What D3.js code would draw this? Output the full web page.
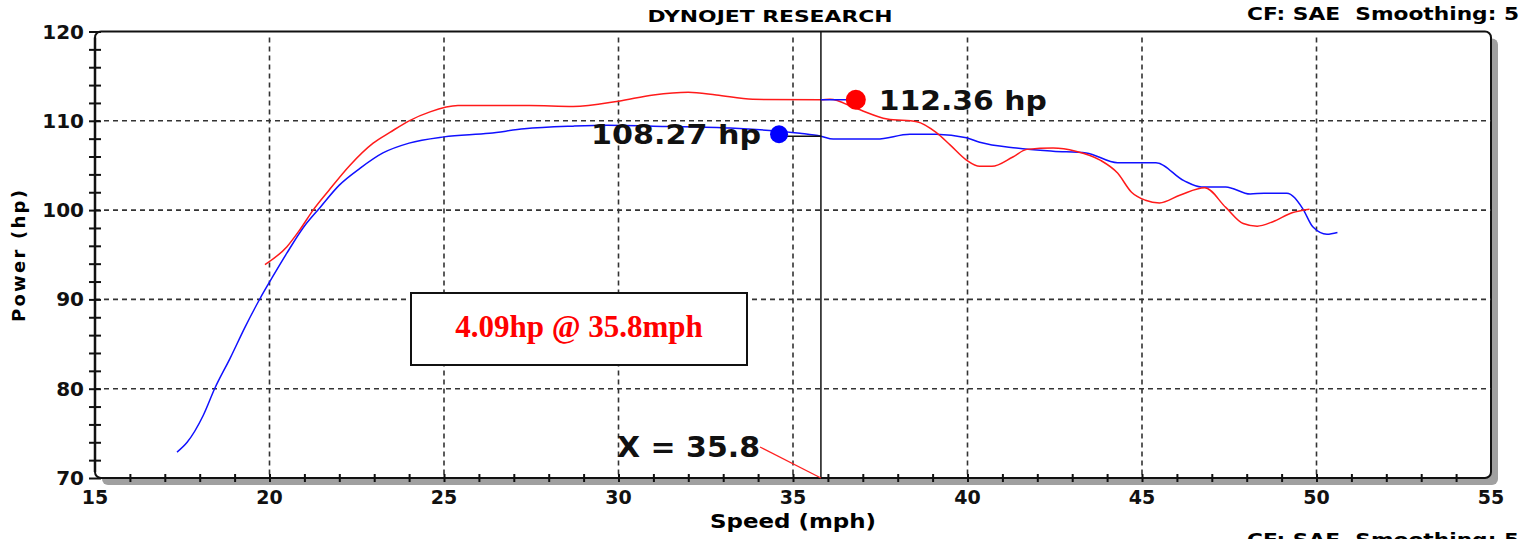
<!DOCTYPE html>
<html>
<head>
<meta charset="utf-8">
<script src="https://cdn.jsdelivr.net/npm/d3@7"></script>
<style>
  body { margin: 0; background: #fff; }
  svg { display: block; }
  .bold { font-family: "DejaVu Sans", Verdana, sans-serif; font-weight: bold; }
</style>
</head>
<body>
<svg id="chart" width="1534" height="539"></svg>
<script>
// run 1 (blue)
const blueSpeed = [17.35, 17.64, 18.1, 18.44, 18.87, 19.3, 19.73, 20.07, 20.5, 20.96, 21.45, 22.0, 22.6, 23.25, 24.0, 25.0, 26.3, 27.3, 28.7, 29.7, 31.0, 33.1, 35.2, 35.8, 36.15, 37.4, 38.35, 39.1, 39.97, 40.35, 41.4, 42.45, 43.4, 44.3, 45.4, 46.2, 46.7, 47.4, 48.1, 48.5, 49.15, 49.6, 49.9, 50.3, 50.6];
const blueHp    = [72.9, 74.0, 77.0, 80.1, 83.4, 86.9, 90.1, 92.4, 95.2, 98.0, 100.3, 102.8, 104.7, 106.4, 107.5, 108.2, 108.6, 109.1, 109.4, 109.5, 109.4, 109.2, 108.6, 108.27, 107.95, 107.95, 108.5, 108.5, 108.1, 107.6, 106.95, 106.6, 106.4, 105.3, 105.3, 103.3, 102.6, 102.6, 101.8, 101.9, 101.9, 100.2, 98.1, 97.3, 97.5];

// run 2 (red)
const redSpeed = [19.87, 20.5, 20.87, 21.25, 21.7, 22.3, 22.97, 23.45, 24.0, 24.6, 25.4, 27.45, 28.7, 30.0, 31.0, 32.0, 32.8, 33.85, 35.8, 36.06, 36.8, 37.7, 38.55, 39.1, 39.5, 39.97, 40.35, 40.7, 41.3, 41.7, 42.45, 43.1, 43.8, 44.3, 44.7, 45.1, 45.5, 46.1, 46.8, 47.4, 47.9, 48.3, 48.75, 49.3, 49.8];
const redHp    = [93.9, 95.9, 97.8, 100.0, 102.2, 105.0, 107.5, 108.7, 110.0, 111.0, 111.7, 111.7, 111.6, 112.2, 112.9, 113.2, 112.9, 112.4, 112.36, 112.4, 111.4, 110.2, 109.9, 108.7, 107.3, 105.6, 104.9, 104.9, 105.95, 106.8, 106.95, 106.6, 105.6, 104.15, 102.0, 101.1, 100.8, 101.7, 102.5, 100.3, 98.5, 98.2, 98.7, 99.7, 100.1];

const xTicks = [15, 20, 25, 30, 35, 40, 45, 50, 55];
const yTicks = [70, 80, 90, 100, 110, 120];
const cursorSpeed = 35.8;
const redAtCursor = 112.36;
const blueAtCursor = 108.27;

const svg = d3.select("#chart");
const x = d3.scaleLinear().domain([15, 55]).range([95, 1491]);
const y = d3.scaleLinear().domain([70, 120]).range([478, 31.5]);

// frame shadow + frame
svg.append("rect")
  .attr("x", x(15) + 7).attr("y", y(120) + 7)
  .attr("width", x(55) - x(15)).attr("height", y(70) - y(120))
  .attr("rx", 6).attr("fill", "#a0a0a0");
svg.append("rect")
  .attr("x", x(15)).attr("y", y(120))
  .attr("width", x(55) - x(15)).attr("height", y(70) - y(120))
  .attr("rx", 6).attr("fill", "#fff").attr("stroke", "#111").attr("stroke-width", 2);

// grid
const grid = svg.append("g").attr("stroke", "#333").attr("stroke-width", 1.6).attr("stroke-dasharray", "5,4");
grid.selectAll(".gx").data(xTicks.slice(1, -1)).enter().append("line")
  .attr("x1", d => x(d)).attr("x2", d => x(d))
  .attr("y1", y(120) + 6).attr("y2", y(70));
grid.selectAll(".gy").data(yTicks.slice(1, -1)).enter().append("line")
  .attr("y1", d => y(d)).attr("y2", d => y(d))
  .attr("x1", x(15)).attr("x2", x(55));

// axes with ticks crossing the line
const yAxisG = svg.append("g").attr("transform", "translate(" + x(15) + ",0)")
  .call(d3.axisLeft(y).ticks(25).tickSize(6).tickFormat(""));
yAxisG.selectAll(".tick line").attr("x2", 6).attr("x1", -6).attr("stroke", "#111").attr("stroke-width", 2);
yAxisG.select(".domain").attr("stroke", "#111").attr("stroke-width", 2.5).attr("d", "M0," + (y(120) + 6) + "V" + (y(70) - 6));

const xAxisG = svg.append("g").attr("transform", "translate(0," + y(70) + ")")
  .call(d3.axisBottom(x).ticks(40).tickSize(4).tickFormat(""));
xAxisG.selectAll(".tick line").attr("y1", -4).attr("y2", 4).attr("stroke", "#111").attr("stroke-width", 2);
xAxisG.select(".domain").remove();
xAxisG.selectAll(".tick").filter(d => d === 15 || d === 55).remove();

// tick labels
svg.selectAll(".yl").data(yTicks).enter().append("text")
  .attr("class", "bold").attr("x", 84).attr("y", d => y(d) + 7)
  .attr("text-anchor", "end").attr("font-size", 20).attr("fill", "#111")
  .text(d => d);
svg.selectAll(".xl").data(xTicks).enter().append("text")
  .attr("class", "bold").attr("x", d => x(d)).attr("y", 504)
  .attr("text-anchor", "middle").attr("font-size", 19).attr("fill", "#111")
  .text(d => d);

// titles
svg.append("text").attr("class", "bold").attr("x", 770).attr("y", 22)
  .attr("text-anchor", "middle").attr("font-size", 16).attr("textLength", 245)
  .attr("lengthAdjust", "spacingAndGlyphs").text("DYNOJET RESEARCH");
svg.append("text").attr("class", "bold").attr("x", 1247).attr("y", 20)
  .attr("font-size", 17).attr("textLength", 272).attr("lengthAdjust", "spacingAndGlyphs")
  .attr("xml:space", "preserve").text("CF: SAE  Smoothing: 5");
// repeated footer, cut by the bottom edge as in the original printout
svg.append("text").attr("class", "bold").attr("x", 1247).attr("y", 546)
  .attr("font-size", 17).attr("textLength", 272).attr("lengthAdjust", "spacingAndGlyphs")
  .attr("xml:space", "preserve").text("CF: SAE  Smoothing: 5");
svg.append("text").attr("class", "bold").attr("x", 793).attr("y", 528)
  .attr("text-anchor", "middle").attr("font-size", 19).attr("textLength", 166)
  .attr("lengthAdjust", "spacingAndGlyphs").text("Speed (mph)");
svg.append("text").attr("class", "bold")
  .attr("transform", "translate(25,256) rotate(-90)")
  .attr("text-anchor", "middle").attr("font-size", 18).attr("textLength", 132)
  .attr("lengthAdjust", "spacing").text("Power (hp)");

// curves
const line = d3.line().x(d => x(d[0])).y(d => y(d[1])).curve(d3.curveMonotoneX);
svg.append("path").datum(d3.zip(blueSpeed, blueHp))
  .attr("d", line).attr("fill", "none").attr("stroke", "#1010ff").attr("stroke-width", 1.5);
svg.append("path").datum(d3.zip(redSpeed, redHp))
  .attr("d", line).attr("fill", "none").attr("stroke", "#ff1a1a").attr("stroke-width", 1.5);

// cursor
svg.append("line").attr("x1", x(cursorSpeed)).attr("x2", x(cursorSpeed))
  .attr("y1", y(120)).attr("y2", y(70)).attr("stroke", "#111").attr("stroke-width", 1.5);

// cursor readouts
const redDot = [x(36.8), y(redAtCursor)];
const blueDot = [x(34.6), y(blueAtCursor) - 2];
svg.append("line").attr("x1", x(cursorSpeed)).attr("x2", redDot[0])
  .attr("y1", y(redAtCursor)).attr("y2", y(redAtCursor)).attr("stroke", "#1010ff").attr("stroke-width", 1.5);
svg.append("line").attr("x1", blueDot[0]).attr("x2", x(cursorSpeed))
  .attr("y1", y(blueAtCursor)).attr("y2", y(blueAtCursor)).attr("stroke", "#111").attr("stroke-width", 1.5);
svg.append("circle").attr("cx", redDot[0]).attr("cy", redDot[1]).attr("r", 10).attr("fill", "#ff0000");
svg.append("circle").attr("cx", blueDot[0]).attr("cy", blueDot[1]).attr("r", 9).attr("fill", "#0000ff");
svg.append("text").attr("class", "bold").attr("x", redDot[0] + 23).attr("y", redDot[1] + 10)
  .attr("font-size", 27).attr("fill", "#111").attr("textLength", 168).attr("lengthAdjust", "spacingAndGlyphs")
  .text(redAtCursor.toFixed(2) + " hp");
svg.append("text").attr("class", "bold").attr("x", blueDot[0] - 18).attr("y", blueDot[1] + 10)
  .attr("text-anchor", "end").attr("font-size", 27).attr("fill", "#111").attr("textLength", 170).attr("lengthAdjust", "spacingAndGlyphs")
  .text(blueAtCursor.toFixed(2) + " hp");

// X readout
svg.append("line").attr("x1", 760).attr("y1", 447).attr("x2", x(cursorSpeed)).attr("y2", y(70))
  .attr("stroke", "#ff2020").attr("stroke-width", 1.2);
svg.append("text").attr("class", "bold").attr("x", 617).attr("y", 457)
  .attr("font-size", 29).attr("fill", "#111").attr("textLength", 143).attr("lengthAdjust", "spacingAndGlyphs")
  .text("X = " + cursorSpeed);

// difference box
const diff = (redAtCursor - blueAtCursor).toFixed(2);
svg.append("rect").attr("x", 411).attr("y", 293).attr("width", 336).attr("height", 72)
  .attr("fill", "#fff").attr("stroke", "#111").attr("stroke-width", 2);
svg.append("text").attr("x", 579).attr("y", 337).attr("text-anchor", "middle")
  .attr("font-family", "'Liberation Serif', 'Times New Roman', serif").attr("font-weight", "bold")
  .attr("font-size", 31).attr("fill", "#ff0000")
  .text(diff + "hp @ " + cursorSpeed + "mph");
</script>
</body>
</html>
